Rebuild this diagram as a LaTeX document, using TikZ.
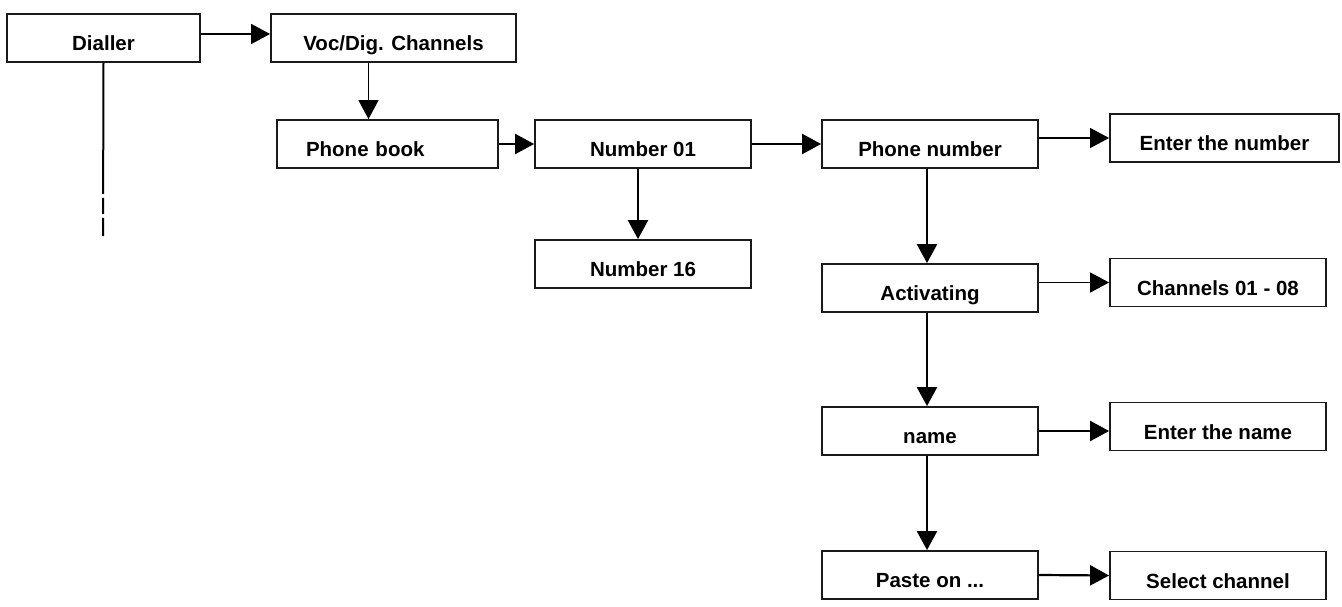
\documentclass[tikz,border=0pt]{standalone}
\usepackage{fontspec}
\setmainfont{Liberation Sans}
\usetikzlibrary{arrows.meta}
\definecolor{boxline}{HTML}{1A1A1A}

\begin{document}
\begin{tikzpicture}[x=1pt,y=-1pt,
    menubox/.style={draw=boxline, line width=1.8pt, minimum height=48pt, inner sep=0pt,
        text height=25pt, text depth=0pt, font=\fontsize{20.5}{24}\selectfont\bfseries},
    link/.style={-{Triangle[length=19pt,width=20pt]}, line width=2.2pt},
    thinlink/.style={link, line width=1.3pt}]
    \useasboundingbox (0,0) rectangle (1342,607);

    \node[menubox, minimum width=193pt] (dialler) at (103.5,38) {Dialler};
    \node[menubox, minimum width=245pt] (vocdig) at (393.5,38) {Voc/Dig. Channels};
    \node[menubox, text width=163pt, inner xsep=29pt, align=left] (phbook) at (387.5,144) {Phone book};
    \node[menubox, minimum width=216pt] (num01) at (643,144) {Number 01};
    \node[menubox, minimum width=216pt] (num16) at (643,264) {Number 16};
    \node[menubox, minimum width=216pt] (phnum) at (930,144) {Phone number};
    \node[menubox, minimum width=216pt] (activ) at (930,288) {Activating};
    \node[menubox, minimum width=216pt] (name) at (930,431) {name};
    \node[menubox, minimum width=216pt] (paste) at (930,575) {Paste on ...};
    \node[menubox, minimum width=229pt] (entnum) at (1224.5,138) {Enter the number};
    \node[menubox, minimum width=216pt] (chans) at (1218,282.5) {Channels 01 - 08};
    \node[menubox, minimum width=216pt] (entname) at (1218,426.5) {Enter the name};
    \node[menubox, minimum width=216pt] (selch) at (1218,575.5) {Select channel};

    \coordinate (dialend) at (103,236);
    \draw[line width=2pt, dash pattern=on 131pt off 4pt on 16pt off 4pt on 30pt] (dialler.south) -- (dialend);

    \draw[thinlink] ([yshift=4pt]dialler.east) -- ([yshift=4pt]vocdig.west);
    \draw[thinlink] ([xshift=-25pt]vocdig.south) -- ([xshift=-25pt]vocdig.south |- phbook.north);
    \draw[link] (phbook.east) -- (num01.west);
    \draw[link] (num01.east) -- (phnum.west);
    \draw[link] ([xshift=-5pt]num01.south) -- ([xshift=-5pt]num01.south |- num16.north);
    \draw[thinlink] (phnum.east |- entnum.west) -- (entnum.west);
    \draw[link] ([xshift=-3pt]phnum.south) -- ([xshift=-3pt]activ.north);
    \draw[thinlink] (activ.east |- chans.west) -- (chans.west);
    \draw[link] ([xshift=-3pt]activ.south) -- ([xshift=-3pt]name.north);
    \draw[link] (name.east) -- (name.east -| entname.west);
    \draw[link] ([xshift=-3pt]name.south) -- ([xshift=-3pt]paste.north);
    \draw[link] (paste.east) -- (selch.west);
\end{tikzpicture}
\end{document}
